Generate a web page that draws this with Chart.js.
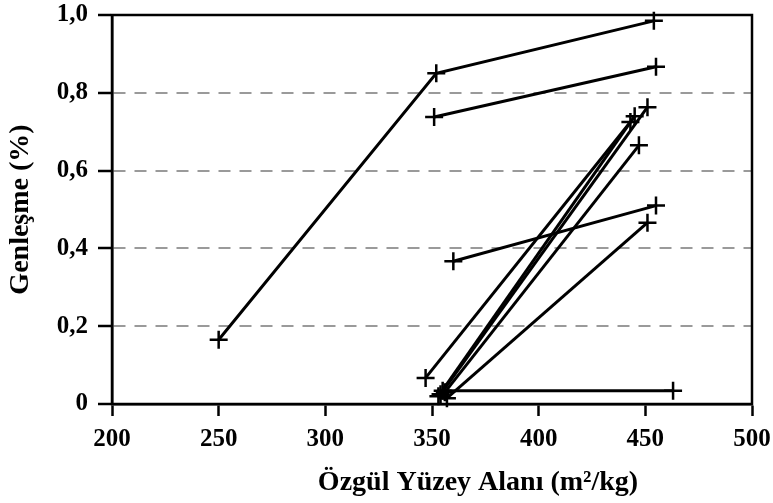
<!DOCTYPE html>
<html>
<head>
<meta charset="utf-8">
<script src="https://cdn.jsdelivr.net/npm/chart.js@4"></script>
<style>
  html, body { margin: 0; padding: 0; background: #fff; }
  #wrap { width: 773px; height: 503px; }
</style>
</head>
<body>
<div id="wrap"><canvas id="expansion"></canvas></div>
<script>
// specific surface (m2/kg) -> expansion (%)
const x1 = [250, 352, 454];  const y1 = [0.165, 0.85, 0.985];
const x2 = [351, 455];       const y2 = [0.738, 0.867];
const x3 = [360, 455];       const y3 = [0.367, 0.51];
const x4 = [347, 443];       const y4 = [0.067, 0.725];
const x5 = [353, 445];       const y5 = [0.02, 0.74];
const x6 = [354, 451];       const y6 = [0.025, 0.763];
const x7 = [356, 447];       const y7 = [0.03, 0.665];
const x8 = [357, 451];       const y8 = [0.015, 0.466];
const x9 = [355, 463];       const y9 = [0.034, 0.034];

const xTicks = [200, 250, 300, 350, 400, 450, 500];
const yTicks = [0, 0.2, 0.4, 0.6, 0.8, 1.0];
const yTickLabels = ['0', '0,2', '0,4', '0,6', '0,8', '1,0'];
const xTitle = 'Özgül Yüzey Alanı (m²/kg)';

const allX = [x1, x2, x3, x4, x5, x6, x7, x8, x9];
const allY = [y1, y2, y3, y4, y5, y6, y7, y8, y9];

function makeSet(xs, ys) {
    return {
        data: xs.map((v, i) => ({ x: v, y: ys[i] })),
        showLine: true,
        borderColor: '#000',
        borderWidth: 3,
        tension: 0,
        pointStyle: 'cross',
        pointRadius: 9,
        pointBorderWidth: 2.5,
        pointBorderColor: '#000',
        pointBackgroundColor: '#000',
        clip: false
    };
}

const serif = '"Liberation Serif", "Times New Roman", serif';
const fontTick = { family: serif, size: 25, weight: 'bold' };
const fontTitle = { family: serif, size: 28, weight: 'bold' };

// closes the plot box on top/right, and puts the x title a bit right of centre
const frame = {
    id: 'frame',
    afterDraw(chart) {
        const { ctx, chartArea: a } = chart;
        ctx.save();
        ctx.strokeStyle = '#000';
        ctx.lineWidth = 2.5;
        ctx.strokeRect(a.left, a.top, a.right - a.left, a.bottom - a.top);

        ctx.fillStyle = '#000';
        ctx.font = 'bold 28px ' + serif;
        ctx.textAlign = 'center';
        ctx.textBaseline = 'middle';
        ctx.fillText(xTitle, (a.left + a.right) / 2 + 46, a.bottom + 79);
        ctx.restore();
    }
};

new Chart(document.getElementById('expansion'), {
    type: 'scatter',
    data: { datasets: allX.map((xs, i) => makeSet(xs, allY[i])) },
    options: {
        responsive: true,
        maintainAspectRatio: false,
        animation: false,
        layout: { padding: { top: 15, right: 21, left: 0, bottom: 0 } },
        plugins: {
            legend: { display: false },
            tooltip: { enabled: false }
        },
        scales: {
            x: {
                type: 'linear',
                min: 200,
                max: 500,
                afterBuildTicks: (scale) => { scale.ticks = xTicks.map(v => ({ value: v })); },
                afterFit: (scale) => {
                    scale.height = 99;
                    scale.paddingLeft = 0;
                    scale.paddingRight = 0;
                },
                ticks: { color: '#000', font: fontTick, padding: 9, maxRotation: 0 },
                grid: { drawOnChartArea: false, tickLength: 12, tickWidth: 2.5, tickColor: '#000' },
                border: { color: '#000', width: 2.5 }
            },
            y: {
                type: 'linear',
                min: 0,
                max: 1,
                afterBuildTicks: (scale) => { scale.ticks = yTicks.map(v => ({ value: v })); },
                afterFit: (scale) => {
                    scale.width = 112;
                    scale.paddingTop = 0;
                    scale.paddingBottom = 0;
                },
                ticks: {
                    color: '#000',
                    font: fontTick,
                    padding: 10,
                    callback: (v, i) => yTickLabels[i]
                },
                grid: {
                    tickLength: 14,
                    tickWidth: 2.5,
                    tickColor: '#000',
                    lineWidth: 2,
                    color: (c) => (c.tick && (c.tick.value === 0 || c.tick.value === 1)) ? 'rgba(0,0,0,0)' : '#9a9a9a'
                },
                border: { color: '#000', width: 2.5, dash: [12, 9] },
                title: {
                    display: true,
                    text: 'Genleşme (%)',
                    color: '#000',
                    font: fontTitle,
                    padding: { bottom: 2 }
                }
            }
        }
    },
    plugins: [frame]
});
</script>
</body>
</html>
